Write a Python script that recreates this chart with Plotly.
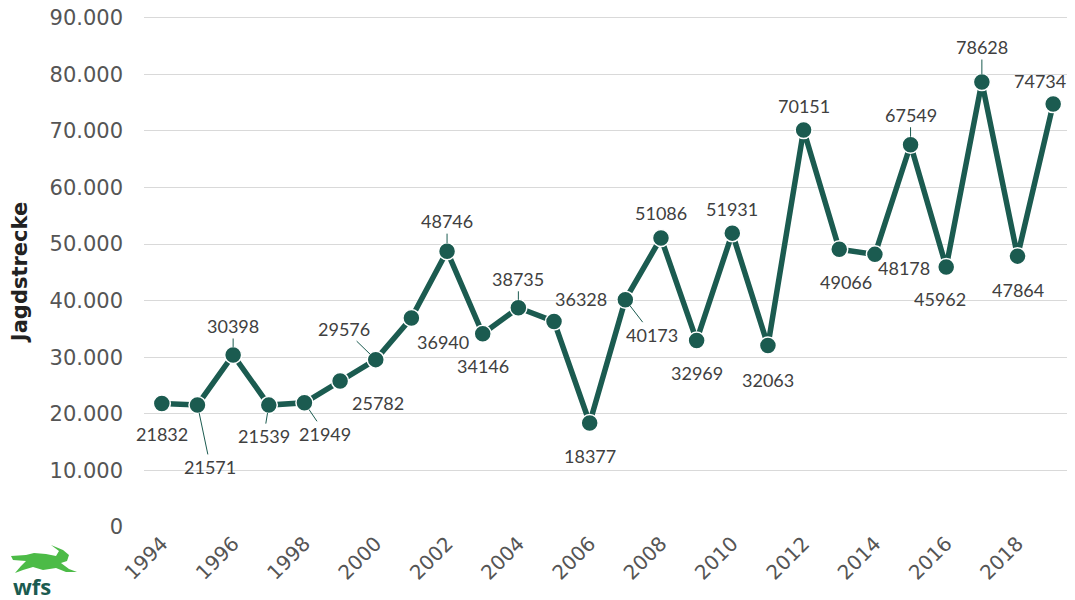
import plotly.graph_objects as go

# Jagdstrecke pro Jahr
jahre = list(range(1994, 2020))
strecke = [21832, 21571, 30398, 21539, 21949, 25782, 29576, 36940, 48746, 34146,
           38735, 36328, 18377, 40173, 51086, 32969, 51931, 32063, 70151, 49066,
           48178, 67549, 45962, 78628, 47864, 74734]

y_ticks = list(range(0, 90001, 10000))
x_ticks = list(range(1994, 2019, 2))

gruen = "#1b5b50"
grau = "#404040"

# Versatz der Datenbeschriftungen (px) und ob eine Fuehrungslinie gezeichnet wird
versatz = [(0, 31, 0), (13, 62, 1), (0, -29, 1), (-5, 31, 1), (21, 31, 1), (38, 22, 0),
           (-32, -31, 1), (32, 24, 0), (0, -30, 1), (0, 32, 0), (0, -29, 1), (27, -22, 0),
           (0, 33, 0), (27, 35, 1), (0, -25, 0), (0, 33, 0), (0, -24, 0), (0, 34, 0),
           (0, -24, 0), (7, 33, 0), (29, 14, 0), (0, -30, 1), (-6, 32, 0), (0, -35, 1),
           (0, 34, 0), (-13, -23, 0)]

fig = go.Figure()
fig.add_trace(go.Scatter(
    x=jahre, y=strecke, mode="lines+markers",
    line=dict(color=gruen, width=5.5),
    marker=dict(size=17, color=gruen, line=dict(color="white", width=1.5)),
    hoverinfo="x+y", showlegend=False))

for j, v, (dx, dy, linie) in zip(jahre, strecke, versatz):
    if linie:
        fig.add_annotation(x=j, y=v, text=str(v), showarrow=True, ax=dx, ay=dy,
                           arrowhead=0, arrowwidth=1, arrowcolor=gruen, standoff=8,
                           font=dict(family="Lato", size=18, color=grau))
    else:
        fig.add_annotation(x=j, y=v, text=str(v), showarrow=False, xshift=dx, yshift=-dy,
                           font=dict(family="Lato", size=18, color=grau))

# Logo unten links
fig.add_annotation(xref="paper", yref="paper", x=0, y=0, text="<b>wfs</b>", showarrow=False,
                   xanchor="left", yanchor="middle", xshift=-133, yshift=-59,
                   font=dict(family="Open Sans", size=22, color=gruen))
hase = [(-133, -29), (-118, -28), (-110, -26), (-98, -27), (-88, -29), (-85, -24), (-93, -18),
        (-81, -23), (-75, -28), (-77, -34), (-83, -36), (-75, -42), (-67, -45), (-78, -45),
        (-88, -41), (-101, -43), (-111, -40), (-121, -43), (-129, -46), (-123, -39),
        (-118, -34), (-131, -33)]
pfad = "M " + " L ".join(f"{a},{b}" for a, b in hase) + " Z"
fig.add_shape(type="path", path=pfad, xref="paper", yref="paper", xsizemode="pixel",
              ysizemode="pixel", xanchor=0, yanchor=0, fillcolor="#4cbb47",
              line=dict(width=0))

fig.update_layout(
    width=1075, height=600,
    margin=dict(l=136, r=12, t=8, b=81, autoexpand=False),
    paper_bgcolor="white", plot_bgcolor="white",
    separators=",.",
    font=dict(family="DejaVu Sans", color=grau),
    xaxis=dict(range=[1993.5, 2019.5], tickvals=x_ticks, tickangle=-45,
               tickfont=dict(size=20, color="#555555"), showgrid=False, zeroline=False,
               showline=False, ticks="", ticklabeloverflow="allow"),
    yaxis=dict(range=[0, 90300], tickvals=y_ticks, tickformat=",d",
               tickfont=dict(size=21, color="#555555"), gridcolor="#d9d9d9", gridwidth=1,
               zeroline=False, showline=False, ticks="", ticklabelstandoff=20,
               ticklabeloverflow="allow",
               title=dict(text="<b>Jagdstrecke</b>", standoff=22,
                          font=dict(family="DejaVu Sans", size=21, color="#222222"))),
)

fig.write_html("out.html")
